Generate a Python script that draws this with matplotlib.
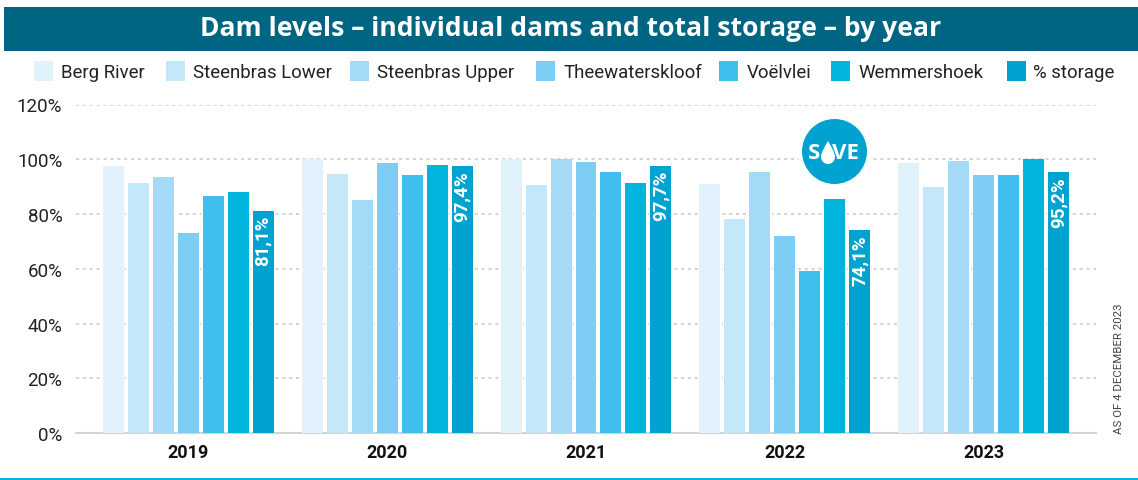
import matplotlib
matplotlib.use('Agg')
import matplotlib.pyplot as plt
import numpy as np
from matplotlib.patches import Rectangle, Ellipse, PathPatch
from matplotlib.path import Path

years = ['2019', '2020', '2021', '2022', '2023']
dams = ['Berg River', 'Steenbras Lower', 'Steenbras Upper', 'Theewaterskloof',
        'Voëlvlei', 'Wemmershoek', '% storage']
berg = [97.5, 100, 100, 91, 98.5]
lower = [91.5, 94.7, 90.5, 78, 90]
upper = [93.5, 85.2, 100, 95.5, 99.5]
theewaters = [73, 98.8, 99, 71.8, 94.3]
voelvlei = [86.5, 94.3, 95.5, 59, 94.3]
wemmershoek = [88, 98, 91.5, 85.5, 100]
storage = [81.1, 97.4, 97.7, 74.1, 95.2]
series = [berg, lower, upper, theewaters, voelvlei, wemmershoek, storage]
colors = ['#E1F2FD', '#C5E7FA', '#A5DAF7', '#7DCDF4', '#40BEEE', '#00B5DB', '#00A3CF']
yticks = [0, 20, 40, 60, 80, 100, 120]

W, H = 1138, 481
FONT = 'Roboto'


def to_fig(a, b):
    # picture pixels to figure fraction
    return a / W, 1 - b / H


fig = plt.figure(figsize=(W / 100, H / 100), dpi=100)

# axes box in pixels
ax = fig.add_axes([76 / W, 1 - 434 / H, (1096 - 76) / W, (434 - 105.5) / H])
x = np.arange(len(years))
pitch = 25 / 199
width = 21 / 199
for i, (vals, c) in enumerate(zip(series, colors)):
    # white bar underneath keeps the grid off the bar edges
    ax.bar(x + (i - 3) * pitch, vals, 23.5 / 199, color='white', zorder=2)
    ax.bar(x + (i - 3) * pitch, vals, width, color=c, zorder=3)

# labels inside the % storage bars
for xi, v in zip(x, storage):
    ax.text(xi + 3 * pitch, v - 1.5, f'{v:.1f}%'.replace('.', ','), rotation=90, ha='center',
            va='top', color='white', fontsize=13.5, fontweight='bold', family=FONT, zorder=4)

ax.set_xlim(-0.563, 4.563)
ax.set_ylim(0, 120)
ax.set_xticks(x)
ax.set_xticklabels(years, fontsize=13, fontweight='bold', family=FONT, color='#111111')
ax.set_yticks(yticks)
ax.set_yticklabels([f'{t}%' for t in yticks], fontsize=13.5, family=FONT, color='#222222')
ax.tick_params(axis='both', length=0)
ax.tick_params(axis='x', pad=7.5)
ax.tick_params(axis='y', pad=9.8)
ax.grid(axis='y', linestyle=(0, (2, 2.5)), color='#c8c8c8', linewidth=1.1, zorder=1)
for s in ['top', 'right', 'left']:
    ax.spines[s].set_visible(False)
ax.spines['bottom'].set_color('#d4d4d4')
ax.spines['bottom'].set_linewidth(1.5)
ax.set_axisbelow(True)

# header band and bottom rule
fig.add_artist(Rectangle((4 / W, 1 - 52 / H), (W - 4) / W, 44 / H, transform=fig.transFigure,
                         color='#006483', lw=0))
fig.add_artist(Rectangle((0, 0), 1, 2 / H, transform=fig.transFigure, color='#00B5DB', lw=0))
fig.text(571 / W, 1 - 29 / H, 'Dam levels – individual dams and total storage – by year', color='white',
         fontsize=19.1, fontweight='bold', family='Open Sans', ha='center', va='center')

# legend row, spacing follows the picture
swatch_left = [34, 166, 350, 536, 719, 831, 1007]
text_left = [61, 193, 377, 563, 747, 858, 1033]
for name, c, sx, tx in zip(dams, colors, swatch_left, text_left):
    fig.add_artist(Rectangle(to_fig(sx, 82), 19 / W, 20 / H, transform=fig.transFigure, color=c, lw=0))
    fig.text(*to_fig(tx, 73), name, fontsize=13.4, family=FONT, color='#222222', ha='left', va='center')

fig.text(*to_fig(1119, 434), 'AS OF 4 DECEMBER 2023', rotation=90, ha='center', va='bottom',
         fontsize=8.2, family=FONT, color='#444444')

# SAVE badge, the A is a water drop
cx, cy, r = 834.5, 152.5, 32.5
fig.add_artist(Ellipse(to_fig(cx, cy), 2 * (r + 4) / W, 2 * (r + 4) / H, transform=fig.transFigure,
                       color='white', lw=0, zorder=4))
fig.add_artist(Ellipse(to_fig(cx, cy), 2 * r / W, 2 * r / H, transform=fig.transFigure,
                       color='#00A3CF', lw=0, zorder=5))
fig.text(*to_fig(820, cy + 1), 'S', color='white', fontsize=16, fontweight='bold', family='Open Sans',
         ha='right', va='center', zorder=6)
fig.text(*to_fig(859, cy + 1), 'VE', color='white', fontsize=16, fontweight='bold', family='Open Sans',
         ha='right', va='center', zorder=6)
drop = [(828, 142), (824, 149), (821, 154), (821, 158), (821, 162), (824, 165), (828, 165),
        (832, 165), (835, 162), (835, 158), (835, 154), (832, 149), (828, 142)]
codes = [Path.MOVETO] + [Path.CURVE4] * 12
fig.add_artist(PathPatch(Path([to_fig(a, b) for a, b in drop], codes), transform=fig.transFigure,
                         color='white', lw=0, zorder=6))

fig.savefig('out.png', dpi=100, facecolor='white')
